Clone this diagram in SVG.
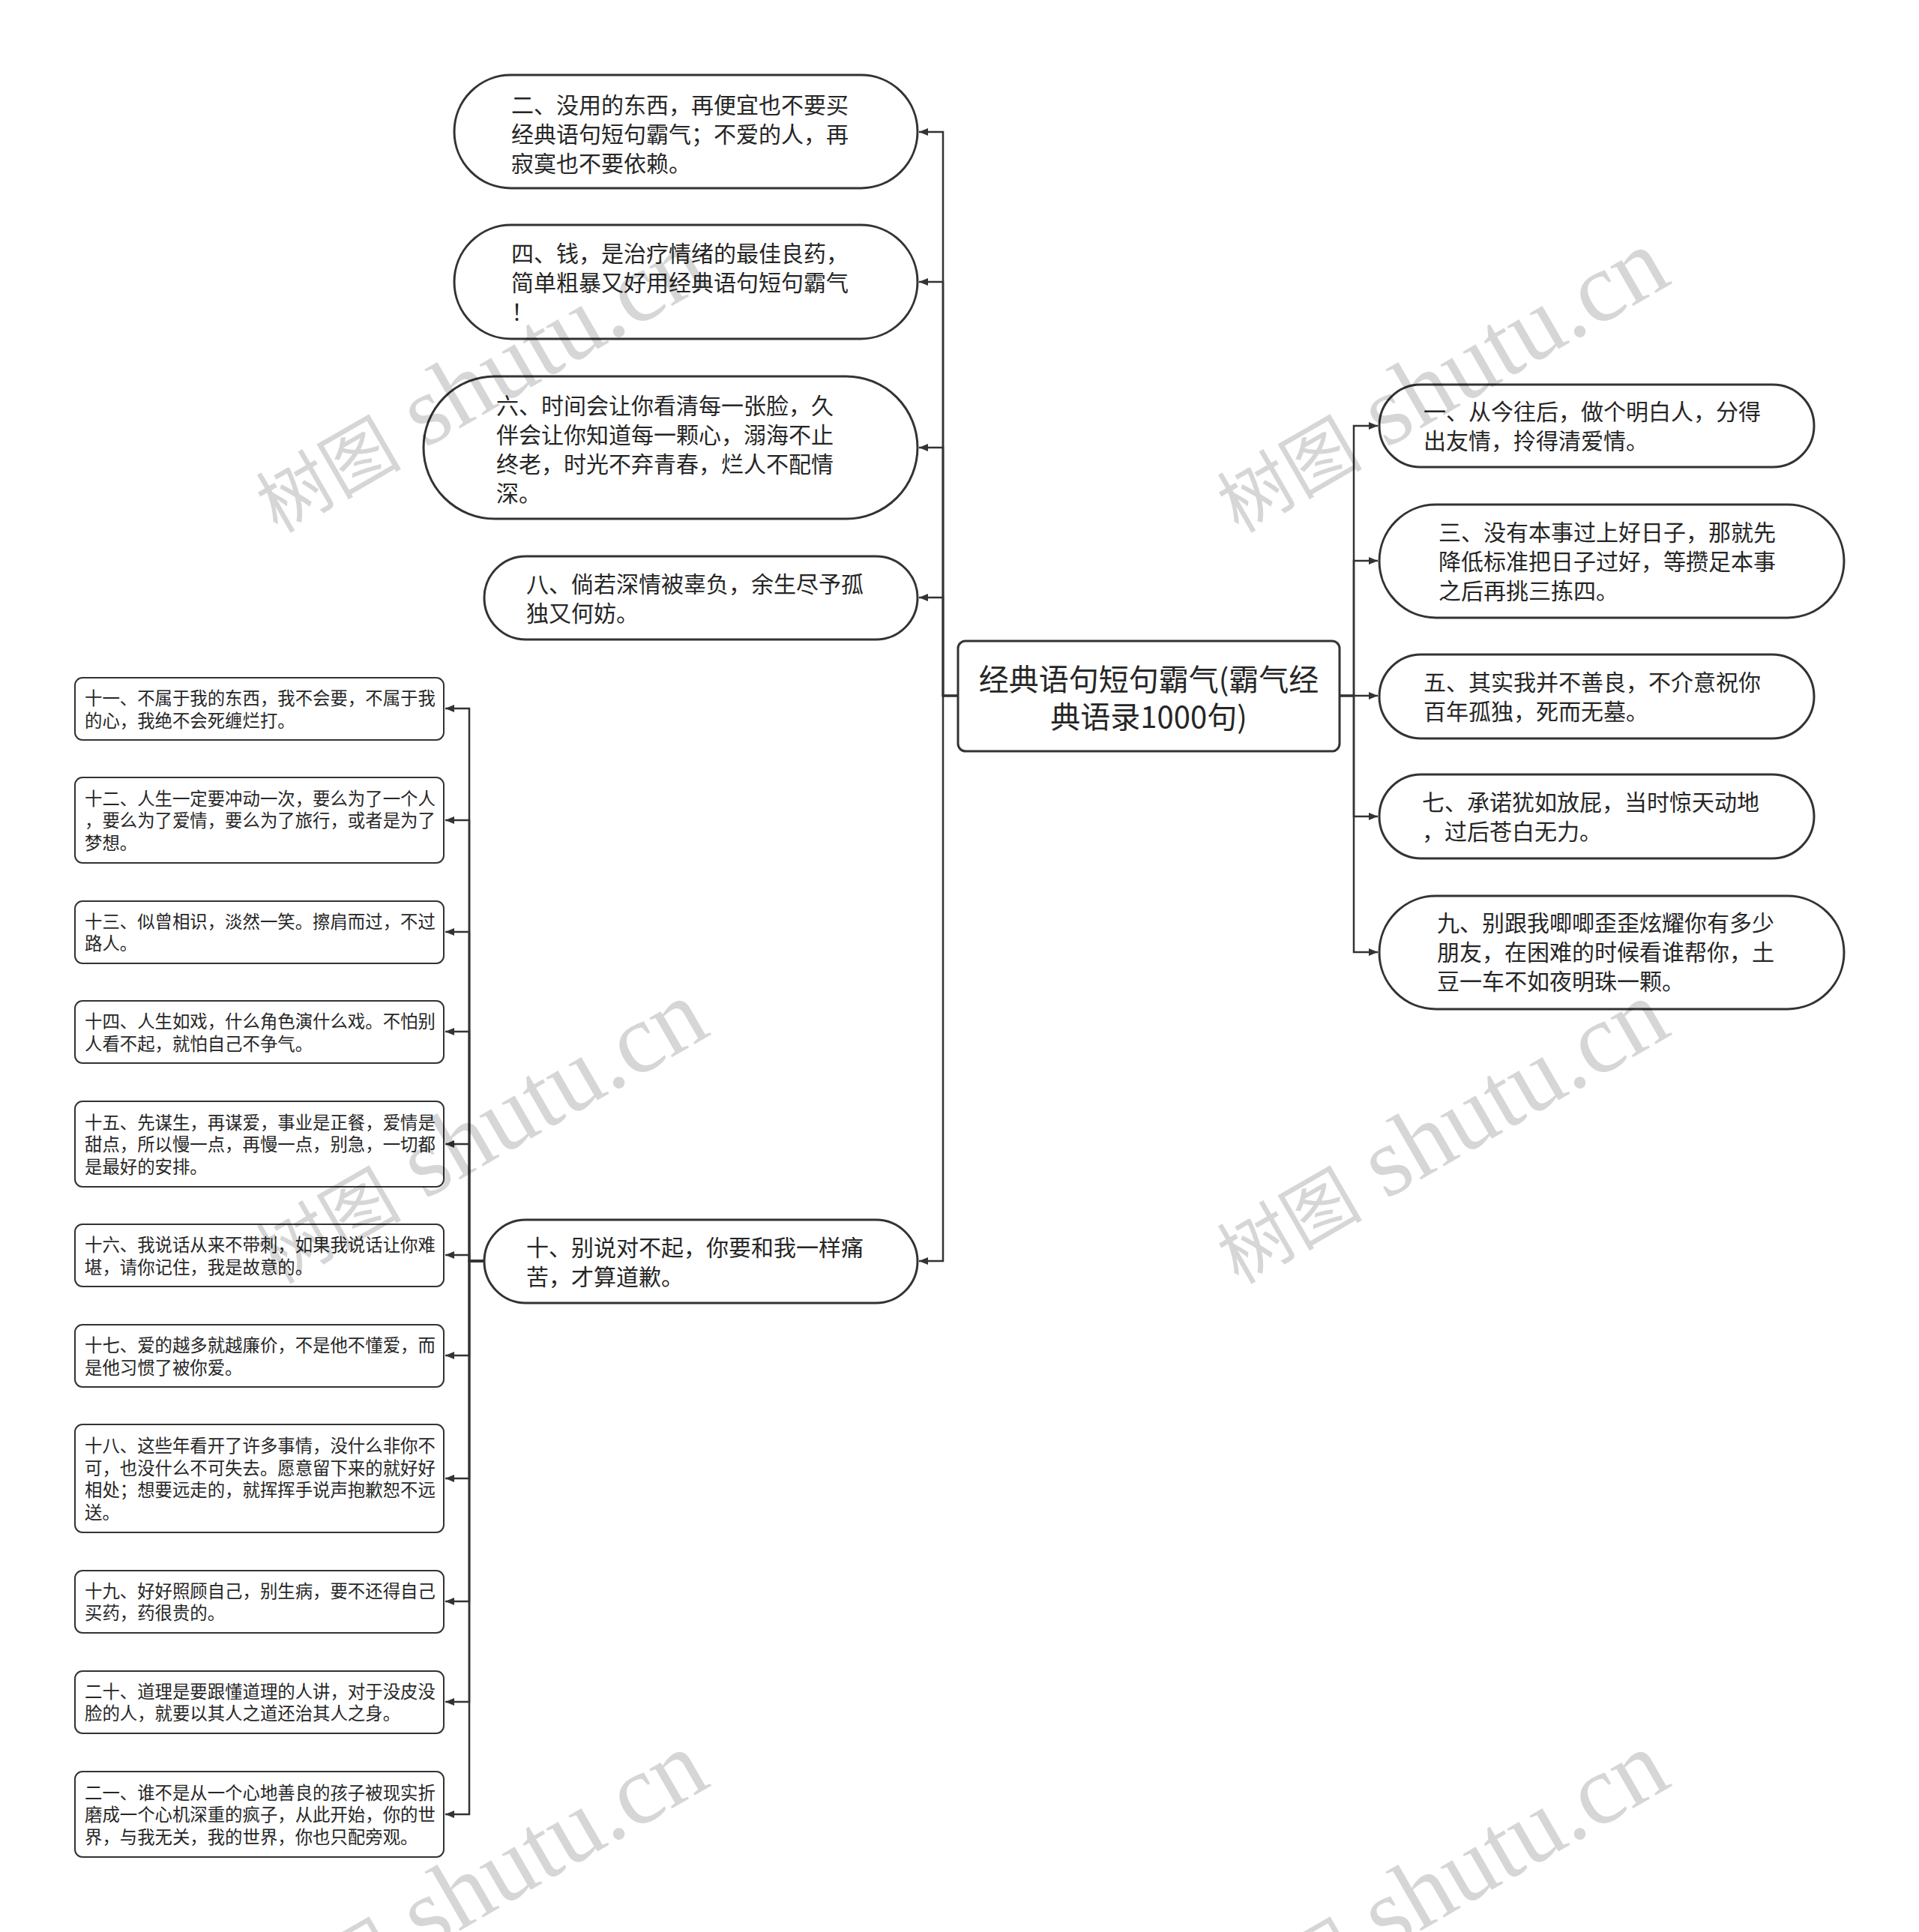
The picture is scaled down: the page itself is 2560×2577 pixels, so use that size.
<svg xmlns="http://www.w3.org/2000/svg" width="2560" height="2577" viewBox="0 0 2560 2577">
<style>
.big{fill:#fff;stroke:#333;stroke-width:3}
.sm{fill:#fff;stroke:#333;stroke-width:2}
.t30{font-family:"Noto Sans CJK SC","Noto Sans",sans-serif;font-size:30px;fill:#262626}
.t23{font-family:"Noto Sans CJK SC","Noto Sans",sans-serif;font-size:23.4px;fill:#262626}
.t40{font-family:"Noto Sans CJK SC","Noto Sans",sans-serif;font-size:40px;fill:#262626}
.edge{fill:none;stroke:#333;stroke-width:2.5}
.wm{font-family:"Liberation Serif","Noto Sans CJK SC",serif;fill:#000;fill-opacity:0.16}
</style>
<defs>
<marker id="arr" viewBox="0 0 12 10" refX="12" refY="5" markerWidth="12" markerHeight="10" markerUnits="userSpaceOnUse" orient="auto">
<path d="M0,0 L12,5 L0,10 z" fill="#333"/>
</marker>
</defs>
<rect width="2560" height="2577" fill="#fff"/>

<g id="connectors">
<path class="edge" marker-end="url(#arr)" d="M1278,928 H1258 V176 H1226"/>
<path class="edge" marker-end="url(#arr)" d="M1278,928 H1258 V376 H1226"/>
<path class="edge" marker-end="url(#arr)" d="M1278,928 H1258 V597 H1226"/>
<path class="edge" marker-end="url(#arr)" d="M1278,928 H1258 V797 H1226"/>
<path class="edge" marker-end="url(#arr)" d="M1278,928 H1258 V1682 H1226"/>
<path class="edge" marker-end="url(#arr)" d="M1787,928 H1806 V568 H1838"/>
<path class="edge" marker-end="url(#arr)" d="M1787,928 H1806 V748 H1838"/>
<path class="edge" marker-end="url(#arr)" d="M1787,928 H1838"/>
<path class="edge" marker-end="url(#arr)" d="M1787,928 H1806 V1089 H1838"/>
<path class="edge" marker-end="url(#arr)" d="M1787,928 H1806 V1270 H1838"/>
<path class="edge" marker-end="url(#arr)" d="M645,1682 H626 V945 H594"/>
<path class="edge" marker-end="url(#arr)" d="M645,1682 H626 V1094 H594"/>
<path class="edge" marker-end="url(#arr)" d="M645,1682 H626 V1243 H594"/>
<path class="edge" marker-end="url(#arr)" d="M645,1682 H626 V1376 H594"/>
<path class="edge" marker-end="url(#arr)" d="M645,1682 H626 V1526 H594"/>
<path class="edge" marker-end="url(#arr)" d="M645,1682 H626 V1674 H594"/>
<path class="edge" marker-end="url(#arr)" d="M645,1682 H626 V1808 H594"/>
<path class="edge" marker-end="url(#arr)" d="M645,1682 H626 V1972 H594"/>
<path class="edge" marker-end="url(#arr)" d="M645,1682 H626 V2136 H594"/>
<path class="edge" marker-end="url(#arr)" d="M645,1682 H626 V2270 H594"/>
<path class="edge" marker-end="url(#arr)" d="M645,1682 H626 V2420 H594"/>
</g>

<g id="root">
<rect class="big" x="1278" y="855" width="509" height="147" rx="10"/>
<text class="t40" x="1532.5" y="921" text-anchor="middle">经典语句短句霸气(霸气经</text>
<text class="t40" x="1532.5" y="971" text-anchor="middle">典语录1000句)</text>
</g>

<g id="n2">
<rect class="big" x="606" y="100" width="618" height="151" rx="75.5"/>
<text class="t30"><tspan x="682" y="151">二、没用的东西，再便宜也不要买</tspan><tspan x="682" y="190">经典语句短句霸气；不爱的人，再</tspan><tspan x="682" y="229">寂寞也不要依赖。</tspan></text>
</g>
<g id="n4">
<rect class="big" x="606" y="300" width="618" height="152" rx="76"/>
<text class="t30"><tspan x="682" y="349">四、钱，是治疗情绪的最佳良药，</tspan><tspan x="682" y="388">简单粗暴又好用经典语句短句霸气</tspan><tspan x="682" y="427">！</tspan></text>
</g>
<g id="n6">
<rect class="big" x="565" y="502" width="659" height="190" rx="95"/>
<text class="t30"><tspan x="662" y="552">六、时间会让你看清每一张脸，久</tspan><tspan x="662" y="591">伴会让你知道每一颗心，溺海不止</tspan><tspan x="662" y="630">终老，时光不弃青春，烂人不配情</tspan><tspan x="662" y="669">深。</tspan></text>
</g>
<g id="n8">
<rect class="big" x="646" y="742" width="578" height="111" rx="55.5"/>
<text class="t30"><tspan x="702" y="790">八、倘若深情被辜负，余生尽予孤</tspan><tspan x="702" y="829">独又何妨。</tspan></text>
</g>
<g id="n10">
<rect class="big" x="646" y="1627" width="578" height="111" rx="55.5"/>
<text class="t30"><tspan x="702" y="1675">十、别说对不起，你要和我一样痛</tspan><tspan x="702" y="1714">苦，才算道歉。</tspan></text>
</g>

<g id="n1">
<rect class="big" x="1840" y="513" width="580" height="110" rx="55"/>
<text class="t30"><tspan x="1899" y="560">一、从今往后，做个明白人，分得</tspan><tspan x="1899" y="599">出友情，拎得清爱情。</tspan></text>
</g>
<g id="n3">
<rect class="big" x="1840" y="673" width="620" height="151" rx="75.5"/>
<text class="t30"><tspan x="1919" y="721">三、没有本事过上好日子，那就先</tspan><tspan x="1919" y="760">降低标准把日子过好，等攒足本事</tspan><tspan x="1919" y="799">之后再挑三拣四。</tspan></text>
</g>
<g id="n5">
<rect class="big" x="1840" y="873" width="580" height="112" rx="56"/>
<text class="t30"><tspan x="1899" y="921">五、其实我并不善良，不介意祝你</tspan><tspan x="1899" y="960">百年孤独，死而无墓。</tspan></text>
</g>
<g id="n7">
<rect class="big" x="1840" y="1033" width="580" height="112" rx="56"/>
<text class="t30"><tspan x="1897" y="1081">七、承诺犹如放屁，当时惊天动地</tspan><tspan x="1897" y="1120">，过后苍白无力。</tspan></text>
</g>
<g id="n9">
<rect class="big" x="1840" y="1195" width="620" height="151" rx="75.5"/>
<text class="t30"><tspan x="1917" y="1242">九、别跟我唧唧歪歪炫耀你有多少</tspan><tspan x="1917" y="1281">朋友，在困难的时候看谁帮你，土</tspan><tspan x="1917" y="1320">豆一车不如夜明珠一颗。</tspan></text>
</g>

<g id="n11">
<rect class="sm" x="100" y="904" width="492" height="83" rx="10"/>
<text class="t23"><tspan x="113" y="940">十一、不属于我的东西，我不会要，不属于我</tspan><tspan x="113" y="969.5">的心，我绝不会死缠烂打。</tspan></text>
</g>
<g id="n12">
<rect class="sm" x="100" y="1037" width="492" height="114" rx="10"/>
<text class="t23"><tspan x="113" y="1073.5">十二、人生一定要冲动一次，要么为了一个人</tspan><tspan x="113" y="1103">，要么为了爱情，要么为了旅行，或者是为了</tspan><tspan x="113" y="1132.5">梦想。</tspan></text>
</g>
<g id="n13">
<rect class="sm" x="100" y="1202" width="492" height="83" rx="10"/>
<text class="t23"><tspan x="113" y="1237.5">十三、似曾相识，淡然一笑。擦肩而过，不过</tspan><tspan x="113" y="1267">路人。</tspan></text>
</g>
<g id="n14">
<rect class="sm" x="100" y="1335" width="492" height="83" rx="10"/>
<text class="t23"><tspan x="113" y="1371">十四、人生如戏，什么角色演什么戏。不怕别</tspan><tspan x="113" y="1400.5">人看不起，就怕自己不争气。</tspan></text>
</g>
<g id="n15">
<rect class="sm" x="100" y="1469" width="492" height="114" rx="10"/>
<text class="t23"><tspan x="113" y="1505.5">十五、先谋生，再谋爱，事业是正餐，爱情是</tspan><tspan x="113" y="1535">甜点，所以慢一点，再慢一点，别急，一切都</tspan><tspan x="113" y="1564.5">是最好的安排。</tspan></text>
</g>
<g id="n16">
<rect class="sm" x="100" y="1633" width="492" height="83" rx="10"/>
<text class="t23"><tspan x="113" y="1669">十六、我说话从来不带刺，如果我说话让你难</tspan><tspan x="113" y="1698.5">堪，请你记住，我是故意的。</tspan></text>
</g>
<g id="n17">
<rect class="sm" x="100" y="1767" width="492" height="83" rx="10"/>
<text class="t23"><tspan x="113" y="1803">十七、爱的越多就越廉价，不是他不懂爱，而</tspan><tspan x="113" y="1832.5">是他习惯了被你爱。</tspan></text>
</g>
<g id="n18">
<rect class="sm" x="100" y="1900" width="492" height="144" rx="10"/>
<text class="t23"><tspan x="113" y="1937">十八、这些年看开了许多事情，没什么非你不</tspan><tspan x="113" y="1966.5">可，也没什么不可失去。愿意留下来的就好好</tspan><tspan x="113" y="1996">相处；想要远走的，就挥挥手说声抱歉恕不远</tspan><tspan x="113" y="2025.5">送。</tspan></text>
</g>
<g id="n19">
<rect class="sm" x="100" y="2095" width="492" height="83" rx="10"/>
<text class="t23"><tspan x="113" y="2130.5">十九、好好照顾自己，别生病，要不还得自己</tspan><tspan x="113" y="2160">买药，药很贵的。</tspan></text>
</g>
<g id="n20">
<rect class="sm" x="100" y="2229" width="492" height="83" rx="10"/>
<text class="t23"><tspan x="113" y="2264.5">二十、道理是要跟懂道理的人讲，对于没皮没</tspan><tspan x="113" y="2294">脸的人，就要以其人之道还治其人之身。</tspan></text>
</g>
<g id="n21">
<rect class="sm" x="100" y="2363" width="492" height="114" rx="10"/>
<text class="t23"><tspan x="113" y="2399.5">二一、谁不是从一个心地善良的孩子被现实折</tspan><tspan x="113" y="2429">磨成一个心机深重的疯子，从此开始，你的世</tspan><tspan x="113" y="2458.5">界，与我无关，我的世界，你也只配旁观。</tspan></text>
</g>

<g id="watermarks">
<text class="wm" transform="translate(370,712) rotate(-30)"><tspan font-size="97">树图</tspan><tspan font-size="132"> shutu.cn</tspan></text>
<text class="wm" transform="translate(1652,712) rotate(-30)"><tspan font-size="97">树图</tspan><tspan font-size="132"> shutu.cn</tspan></text>
<text class="wm" transform="translate(370,1714) rotate(-30)"><tspan font-size="97">树图</tspan><tspan font-size="132"> shutu.cn</tspan></text>
<text class="wm" transform="translate(1652,1714) rotate(-30)"><tspan font-size="97">树图</tspan><tspan font-size="132"> shutu.cn</tspan></text>
<text class="wm" transform="translate(370,2716) rotate(-30)"><tspan font-size="97">树图</tspan><tspan font-size="132"> shutu.cn</tspan></text>
<text class="wm" transform="translate(1652,2716) rotate(-30)"><tspan font-size="97">树图</tspan><tspan font-size="132"> shutu.cn</tspan></text>
</g>
</svg>
